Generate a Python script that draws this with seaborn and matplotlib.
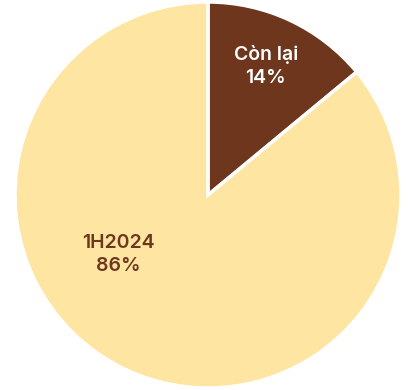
import matplotlib
matplotlib.use("Agg")
import matplotlib.pyplot as plt
import seaborn as sns

# Share of the year's figure
labels = ["Còn lại", "1H2024"]
shares = [14, 86]
colors = ["#6D361D", "#FEE5A1"]
text_colors = ["#FFFFFF", "#6D361D"]
# label anchor points in pie units (x, y)
label_pos = [(0.30, 0.67), (-0.465, -0.31)]

sns.set_theme(style="white")
plt.rcParams["font.family"] = ["Inter", "DejaVu Sans"]

fig = plt.figure(figsize=(4.08, 3.90), dpi=100)
ax = fig.add_axes([15 / 408, 2 / 390, 386 / 408, 386 / 390])

ax.pie(
    shares,
    colors=colors,
    startangle=90,
    counterclock=False,
    radius=1.0,
    wedgeprops=dict(edgecolor="white", linewidth=2.5),
)

for lab, val, col, (x, y) in zip(labels, shares, text_colors, label_pos):
    ax.text(x, y, f"{lab}\n{val}%", ha="center", va="center", color=col,
            fontsize=14, fontweight="semibold", linespacing=1.38)

ax.set_xlim(-1, 1)
ax.set_ylim(-1, 1)
ax.set_aspect("equal")
ax.axis("off")

fig.savefig("out.png", dpi=100, facecolor="white")
